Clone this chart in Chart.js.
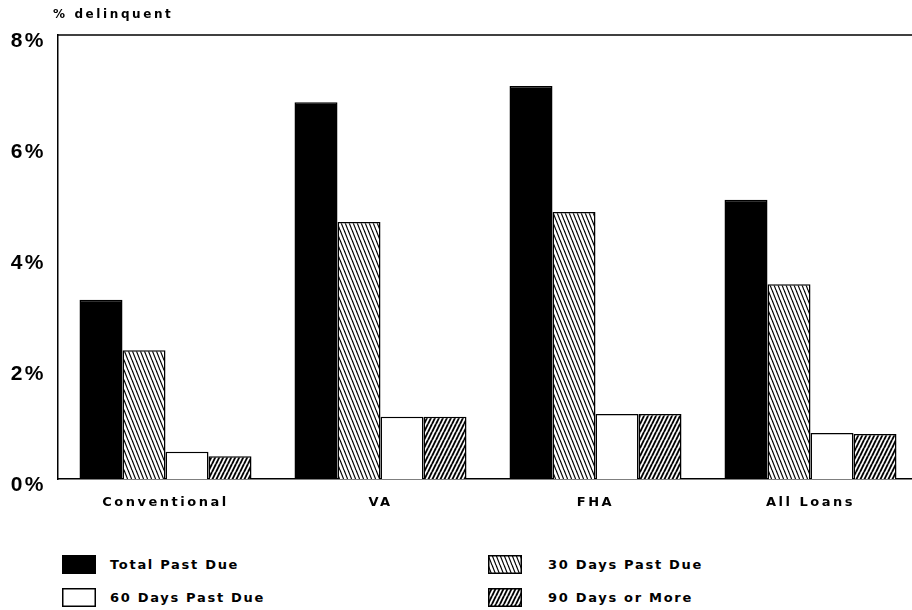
<!DOCTYPE html>
<html><head><meta charset="utf-8">
<script src="https://cdn.jsdelivr.net/npm/chart.js@4/dist/chart.umd.min.js"></script>
<style>
html,body{margin:0;padding:0;background:#fff;overflow:hidden;width:912px;height:610px;}
#wrap{position:relative;width:918px;height:610px;}
#c{position:absolute;left:0;top:0;}
.sw{position:absolute;}
.lt{position:absolute;font:bold 13px "DejaVu Sans";letter-spacing:1.7px;color:#000;line-height:16px;white-space:nowrap;}
</style></head>
<body><div id="wrap"><canvas id="c" width="918" height="525"></canvas></div>
<script>
// ---- data ----
const categories = ['Conventional', 'VA', 'FHA', 'All Loans'];
const seriesNames = ['Total Past Due', '30 Days Past Due', '60 Days Past Due', '90 Days or More'];
const totalPastDue = [3.23, 6.79, 7.08, 5.03];
const days30 = [2.32, 4.63, 4.81, 3.51];
const days60 = [0.49, 1.12, 1.17, 0.83];
const days90 = [0.41, 1.12, 1.17, 0.81];
const yTickValues = [0, 2, 4, 6, 8];
const yTitle = '% delinquent';

// ---- patterns ----
function hatch(p, h, lw, dir) {
  const c = document.createElement('canvas');
  c.width = p; c.height = h;
  const g = c.getContext('2d');
  g.fillStyle = '#fff'; g.fillRect(0, 0, p, h);
  g.strokeStyle = '#000'; g.lineWidth = lw;
  for (const o of [-p, 0, p]) {
    g.beginPath();
    if (dir > 0) { g.moveTo(o, 0); g.lineTo(o + p, h); }
    else { g.moveTo(o, h); g.lineTo(o + p, 0); }
    g.stroke();
  }
  return g.createPattern(c, 'repeat');
}
const fills = ['#000', hatch(4, 10, 1.2, 1), '#fff', hatch(4, 8, 1.9, -1)];
const seriesValues = [totalPastDue, days30, days60, days90];

const frame = {
  id: 'frame',
  beforeDraw(chart) { chart.ctx.letterSpacing = '2.5px'; },
  afterDraw(chart) {
    const { ctx, chartArea: a } = chart;
    ctx.save();
    ctx.strokeStyle = '#000'; ctx.lineWidth = 1.5;
    ctx.beginPath(); ctx.moveTo(a.left, a.top); ctx.lineTo(a.right, a.top); ctx.stroke();
    ctx.font = 'bold 12px "DejaVu Sans"';
    ctx.letterSpacing = '2.6px';
    ctx.fillStyle = '#000'; ctx.textBaseline = 'middle'; ctx.textAlign = 'left';
    ctx.fillText(yTitle, 53, 15);
    ctx.restore();
  }
};

new Chart(document.getElementById('c'), {
  type: 'bar',
  data: {
    labels: categories,
    datasets: seriesNames.map((n, i) => ({
      label: n, data: seriesValues[i], backgroundColor: fills[i],
      borderColor: '#000', borderWidth: 1.5,
      categoryPercentage: 0.8, barPercentage: 1.0
    }))
  },
  options: {
    responsive: false, animation: false,
    layout: { padding: { top: 35, left: 0, right: 0, bottom: 0 } },
    plugins: { legend: { display: false }, tooltip: { enabled: false }, title: { display: false } },
    scales: {
      x: {
        grid: { display: false },
        border: { display: true, color: '#000', width: 1.5 },
        ticks: { color: '#000', font: { family: 'DejaVu Sans', size: 13, weight: 'bold' }, padding: 8, maxRotation: 0 },
        afterFit: s => { s.height = 46; }
      },
      y: {
        min: 0, max: 8,
        grid: { display: false },
        border: { display: true, color: '#000', width: 1.5 },
        afterBuildTicks: s => { s.ticks = yTickValues.map(v => ({ value: v })); },
        ticks: { color: '#000', font: { family: 'Liberation Sans', size: 21, weight: 'bold' }, padding: 4, labelOffset: 6,
          callback: v => v + '%' },
        afterFit: s => { s.width = 58; }
      }
    }
  },
  plugins: [frame]
});

// ---- legend (HTML) ----
const wrap = document.getElementById('wrap');
const legPos = [
  { sx: 62, tx: 110, cy: 565 },
  { sx: 488, tx: 548, cy: 565 },
  { sx: 62, tx: 110, cy: 598 },
  { sx: 488, tx: 548, cy: 598 }
];
const legOrder = [0, 1, 2, 3];
legOrder.forEach((si, k) => {
  const p = legPos[k];
  const sw = document.createElement('canvas');
  sw.width = 34; sw.height = 19; sw.className = 'sw';
  sw.style.left = p.sx + 'px'; sw.style.top = (p.cy - 10) + 'px';
  const g = sw.getContext('2d');
  g.fillStyle = fills[si]; g.fillRect(0, 0, 34, 19);
  g.strokeStyle = '#000'; g.lineWidth = 1.5; g.strokeRect(0.75, 0.75, 32.5, 17.5);
  wrap.appendChild(sw);
  const t = document.createElement('div');
  t.className = 'lt'; t.textContent = seriesNames[si];
  t.style.left = p.tx + 'px'; t.style.top = (p.cy - 8) + 'px';
  wrap.appendChild(t);
});
</script>
</body></html>
